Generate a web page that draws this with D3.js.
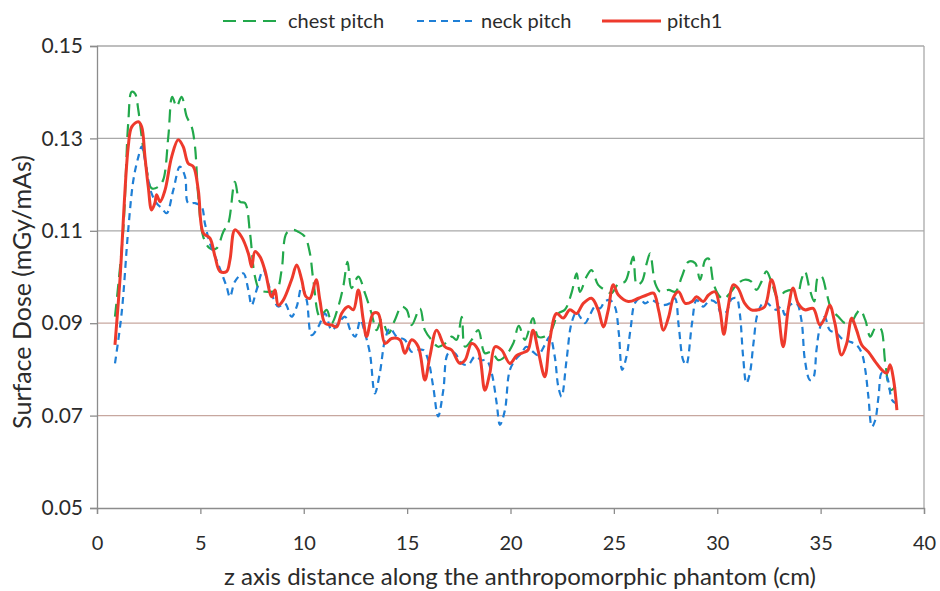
<!DOCTYPE html>
<html>
<head>
<meta charset="utf-8">
<script src="https://cdn.jsdelivr.net/npm/d3@7"></script>
<style>
  html, body { margin: 0; padding: 0; background: #ffffff; }
  svg { display: block; }
  text { font-family: Lato, "Open Sans", sans-serif; fill: #2b2b2b; }
</style>
</head>
<body>
<svg id="chart" width="940" height="591"></svg>
<script>
// ---- data ----
const xTicks = [0, 5, 10, 15, 20, 25, 30, 35, 40];
const yTicks = [0.05, 0.07, 0.09, 0.11, 0.13, 0.15];
const seriesNames = ["chest pitch", "neck pitch", "pitch1"];

const chestPitch = [
[0.87,.0914],[1.27,.1102],[1.51,.1333],[1.68,.1401],[1.84,.1397],[2.0,.1361],[2.16,.1304],[2.4,.1232],[2.64,.1192],[2.96,.1195],
[3.2,.121],[3.45,.1304],[3.64,.139],[3.85,.1369],[4.09,.139],[4.34,.1347],[4.58,.1325],[4.74,.1282],[4.9,.1174],[5.14,.1087],
[5.46,.1062],[5.78,.1062],[6.11,.1098],[6.35,.1116],[6.67,.1206],[6.91,.1163],[7.16,.116],[7.4,.1095],[7.64,.1001],[7.88,.0972],
[8.28,.0968],[8.69,.0972],[8.93,.1015],[9.17,.1095],[9.49,.1102],[9.73,.1098],[10.06,.1087],[10.3,.1051],[10.46,.0994],[10.78,.0914],
[11.11,.0929],[11.35,.09],[11.67,.0936],[11.91,.0979],[12.12,.1033],[12.31,.0976],[12.64,.1001],[12.96,.0965],[13.28,.0921],[13.52,.0885],
[13.77,.0907],[14.09,.0878],[14.41,.0907],[14.73,.0936],[14.98,.0929],[15.22,.0896],[15.62,.0932],[15.86,.0885],[16.18,.0864],[16.5,.0849],
[16.83,.0856],[17.15,.0871],[17.39,.0864],[17.64,.0914],[17.8,.0849],[18.12,.0864],[18.44,.0885],[18.76,.0835],[19.09,.0838],[19.41,.082],
[19.73,.0828],[20.13,.0856],[20.4,.0894],[20.7,.0864],[21.09,.0911],[21.33,.0871],[21.66,.0871],[21.98,.0885],[22.31,.0921],[22.63,.0929],
[22.95,.0965],[23.2,.1008],[23.36,.0968],[23.68,.1001],[23.92,.1015],[24.24,.0983],[24.56,.0972],[24.89,.0965],[25.22,.0986],[25.54,.099],
[25.78,.1022],[25.94,.1044],[26.11,.0983],[26.35,.099],[26.59,.103],[26.75,.1051],[27.0,.0986],[27.24,.0968],[27.65,.0972],[27.97,.0968],
[28.29,.1001],[28.61,.1033],[28.93,.103],[29.17,.0994],[29.42,.1037],[29.58,.104],[29.82,.0986],[30.06,.0961],[30.3,.0952],[30.61,.0965],
[31.0,.0986],[31.33,.0994],[31.65,.099],[31.9,.0972],[32.14,.099],[32.38,.1012],[32.62,.099],[32.94,.0954],[33.27,.0968],[33.67,.0972],
[33.91,.0968],[34.07,.0994],[34.24,.1012],[34.48,.0972],[34.69,.0947],[34.88,.1001],[35.05,.1001],[35.29,.0965],[35.53,.0929],[35.86,.0914],
[36.18,.09],[36.5,.0903],[36.74,.0921],[36.91,.0929],[37.16,.0907],[37.4,.0871],[37.64,.0889],[37.89,.0889],[38.13,.0813],[38.38,.0755],
[38.62,.0763]
];

const neckPitch = [
[0.87,.0813],[1.19,.0921],[1.51,.1102],[1.76,.121],[2.0,.126],[2.16,.1282],[2.32,.1253],[2.48,.121],[2.64,.1181],[2.88,.116],
[3.13,.1149],[3.37,.1138],[3.69,.1188],[4.01,.1239],[4.26,.1217],[4.41,.116],[4.74,.116],[5.06,.1152],[5.22,.1116],[5.46,.1073],
[5.78,.1037],[6.03,.1008],[6.27,.0979],[6.43,.0957],[6.67,.099],[7.07,.1008],[7.32,.0972],[7.48,.0939],[7.72,.0972],[8.04,.1015],
[8.28,.0986],[8.53,.0954],[8.77,.0936],[9.09,.0943],[9.41,.0914],[9.66,.0936],[9.9,.0979],[10.14,.095],[10.38,.0874],[10.7,.0892],
[11.03,.0921],[11.35,.0885],[11.67,.09],[12.0,.0914],[12.25,.0885],[12.49,.0871],[12.74,.0907],[12.96,.0878],[13.2,.0835],[13.44,.0748],
[13.68,.0792],[13.93,.0864],[14.17,.0889],[14.49,.0871],[14.89,.0864],[15.22,.0838],[15.54,.0842],[15.78,.0842],[16.02,.082],[16.26,.0763],
[16.5,.0698],[16.75,.0755],[16.99,.0835],[17.31,.0835],[17.64,.0813],[17.96,.081],[18.28,.0828],[18.6,.082],[18.84,.082],[19.09,.0792],
[19.33,.0727],[19.49,.068],[19.73,.0712],[19.97,.0799],[20.29,.0824],[20.53,.0835],[20.77,.0849],[21.09,.0838],[21.33,.0831],[21.66,.0853],
[21.9,.0871],[22.14,.0828],[22.31,.0763],[22.47,.0741],[22.71,.082],[22.95,.09],[23.2,.0925],[23.36,.0914],[23.6,.09],[23.84,.0918],
[24.09,.0936],[24.33,.0932],[24.56,.0947],[24.81,.095],[25.05,.0936],[25.24,.0878],[25.4,.0799],[25.61,.0828],[25.82,.0892],[26.01,.0943],
[26.26,.0954],[26.5,.0943],[26.82,.095],[27.31,.0939],[27.71,.0943],[27.95,.0954],[28.14,.0892],[28.35,.082],[28.5,.081],[28.78,.09],
[29.0,.095],[29.32,.0936],[29.65,.095],[29.97,.0943],[30.21,.0918],[30.45,.0925],[30.69,.0952],[30.93,.0954],[31.09,.0921],[31.25,.0828],
[31.41,.077],[31.58,.0792],[31.75,.0856],[31.98,.0925],[32.3,.0947],[32.62,.0936],[32.86,.0929],[33.1,.0936],[33.27,.0918],[33.51,.0939],
[33.83,.0943],[34.07,.0907],[34.24,.082],[34.48,.0777],[34.64,.0781],[34.8,.0842],[34.96,.0889],[35.2,.0914],[35.44,.0885],[35.77,.0878],
[36.1,.0864],[36.42,.086],[36.74,.0853],[36.99,.0835],[37.16,.0799],[37.31,.0741],[37.48,.0676],[37.64,.069],[37.8,.0741],[37.96,.0792],
[38.2,.0784],[38.45,.0734],[38.62,.0727]
];

const pitch1 = [
[0.87,.0853],[1.11,.0994],[1.51,.1282],[1.68,.1325],[2.0,.1336],[2.16,.1325],[2.32,.126],[2.48,.1195],[2.64,.1145],[2.8,.116],
[2.88,.1178],[3.05,.1163],[3.29,.1188],[3.61,.126],[3.93,.1297],[4.17,.1282],[4.41,.1246],[4.66,.1239],[4.9,.1188],[5.14,.1095],
[5.46,.1084],[5.71,.1044],[5.95,.1012],[6.27,.1012],[6.43,.1037],[6.67,.1102],[6.99,.1087],[7.32,.1051],[7.48,.1022],[7.64,.1055],
[7.88,.1044],[8.12,.1015],[8.45,.0957],[8.61,.0972],[8.77,.0939],[9.01,.095],[9.41,.0994],[9.66,.1026],[9.9,.0994],[10.1,.0958],
[10.3,.0954],[10.6,.0994],[10.78,.095],[11.03,.09],[11.35,.0896],[11.59,.0892],[11.83,.0921],[12.15,.0936],[12.4,.0929],[12.64,.0972],
[12.88,.0907],[13.04,.0871],[13.36,.0921],[13.6,.0921],[13.93,.0856],[14.25,.0867],[14.65,.0864],[14.89,.0835],[15.22,.0864],[15.54,.0849],
[15.86,.0777],[16.1,.0828],[16.43,.0885],[16.83,.0849],[17.15,.0842],[17.55,.0813],[17.8,.082],[18.12,.0856],[18.44,.0842],[18.76,.0755],
[19.0,.0792],[19.25,.0849],[19.57,.0842],[19.97,.0813],[20.3,.083],[20.6,.0836],[20.85,.0842],[21.09,.0885],[21.33,.0842],[21.66,.0784],
[21.9,.0864],[22.23,.0921],[22.55,.0911],[22.87,.0929],[23.2,.0921],[23.52,.0943],[23.92,.0954],[24.24,.0929],[24.49,.0892],[24.73,.0929],
[24.97,.0983],[25.22,.0961],[25.7,.0947],[26.19,.0954],[26.59,.0961],[26.92,.0965],[27.16,.0929],[27.4,.0885],[27.65,.0914],[27.89,.0957],
[28.13,.0968],[28.45,.0943],[28.78,.0947],[29.0,.0957],[29.32,.0947],[29.58,.0961],[29.9,.0968],[30.13,.0929],[30.32,.0876],[30.53,.0936],
[30.77,.0983],[31.0,.0976],[31.33,.0943],[31.65,.0929],[31.98,.0929],[32.3,.0936],[32.62,.0994],[32.86,.0957],[33.19,.0849],[33.43,.0929],
[33.67,.0976],[33.91,.0943],[34.24,.0929],[34.64,.0932],[34.96,.0896],[35.2,.0911],[35.44,.0939],[35.69,.09],[36.01,.0831],[36.26,.0856],
[36.5,.0911],[36.74,.0885],[36.99,.0853],[37.31,.0838],[37.64,.0817],[37.96,.0799],[38.2,.0792],[38.36,.081],[38.53,.0777],[38.69,.0712]
];

// ---- layout ----
const plot = { left: 97, right: 924, top: 46, bottom: 508 };
const svg = d3.select("#chart");

const x = d3.scaleLinear().domain([0, 40]).range([plot.left, plot.right]);
const y = d3.scaleLinear().domain([0.05, 0.15]).range([plot.bottom, plot.top]);

// gridlines
const gridColor = v => (v >= 0.105 ? "#a9a9a9" : "#c7a79f");
svg.append("g").selectAll("line")
  .data(yTicks.filter(v => v > 0.05))
  .join("line")
  .attr("x1", plot.left).attr("x2", plot.right)
  .attr("y1", d => y(d)).attr("y2", d => y(d))
  .attr("stroke", d => gridColor(d)).attr("stroke-width", 1.3);

// right border
svg.append("line")
  .attr("x1", plot.right).attr("x2", plot.right)
  .attr("y1", plot.top).attr("y2", plot.bottom)
  .attr("stroke", "#a9a9a9").attr("stroke-width", 1.3);

// axes
const xAxis = d3.axisBottom(x).tickValues(xTicks).tickSize(6).tickPadding(22).tickFormat(d3.format("d"));
const gx = svg.append("g").attr("transform", `translate(0,${plot.bottom})`).call(xAxis);
gx.select(".domain").attr("stroke", "#8c8c8c").attr("stroke-width", 1.3);
gx.selectAll(".tick line").attr("stroke", "#8c8c8c").attr("stroke-width", 1.3);
gx.selectAll(".tick text").attr("font-size", 20).attr("font-family", "Lato, sans-serif").attr("fill", "#2b2b2b");

const yAxis = d3.axisLeft(y).tickValues(yTicks).tickSize(7).tickPadding(7).tickFormat(d3.format(".2f"));
const gy = svg.append("g").attr("transform", `translate(${plot.left},0)`).call(yAxis);
gy.select(".domain").attr("stroke", "#8c8c8c").attr("stroke-width", 1.3);
gy.selectAll(".tick line").attr("stroke", "#8c8c8c").attr("stroke-width", 1.3);
gy.selectAll(".tick text").attr("font-size", 21).attr("font-family", "Lato, sans-serif").attr("fill", "#2b2b2b");

// axis titles
svg.append("text")
  .attr("x", 520).attr("y", 585)
  .attr("text-anchor", "middle")
  .attr("font-size", 24)
  .text("z axis distance along the anthropomorphic phantom (cm)");

svg.append("text")
  .attr("transform", `translate(31,${292}) rotate(-90)`)
  .attr("text-anchor", "middle")
  .attr("font-size", 25)
  .text("Surface Dose (mGy/mAs)");

// lines
const line = d3.line().x(d => x(d[0])).y(d => y(d[1])).curve(d3.curveCatmullRom.alpha(0.5));
const styles = [
  { data: chestPitch, color: "#22a84b", width: 2.2, dash: "13,7" },
  { data: neckPitch,  color: "#1f7fd6", width: 2.2, dash: "7,5" },
  { data: pitch1,     color: "#ee3a2c", width: 3, dash: null }
];
styles.forEach(s => {
  svg.append("path")
    .datum(s.data)
    .attr("fill", "none")
    .attr("stroke", s.color)
    .attr("stroke-width", s.width)
    .attr("stroke-dasharray", s.dash)
    .attr("stroke-linejoin", "round")
    .attr("d", line);
});

// legend
const legendItems = [
  { name: seriesNames[0], x1: 223, x2: 283, tx: 288, s: styles[0] },
  { name: seriesNames[1], x1: 417, x2: 472, tx: 481, s: styles[1] },
  { name: seriesNames[2], x1: 602, x2: 661, tx: 667, s: styles[2] }
];
const lg = svg.append("g");
legendItems.forEach(it => {
  lg.append("line")
    .attr("x1", it.x1).attr("x2", it.x2).attr("y1", 21).attr("y2", 21)
    .attr("stroke", it.s.color).attr("stroke-width", it.s.width)
    .attr("stroke-dasharray", it.s.dash);
  lg.append("text")
    .attr("x", it.tx).attr("y", 28)
    .attr("font-size", 20)
    .text(it.name);
});
</script>
</body>
</html>
